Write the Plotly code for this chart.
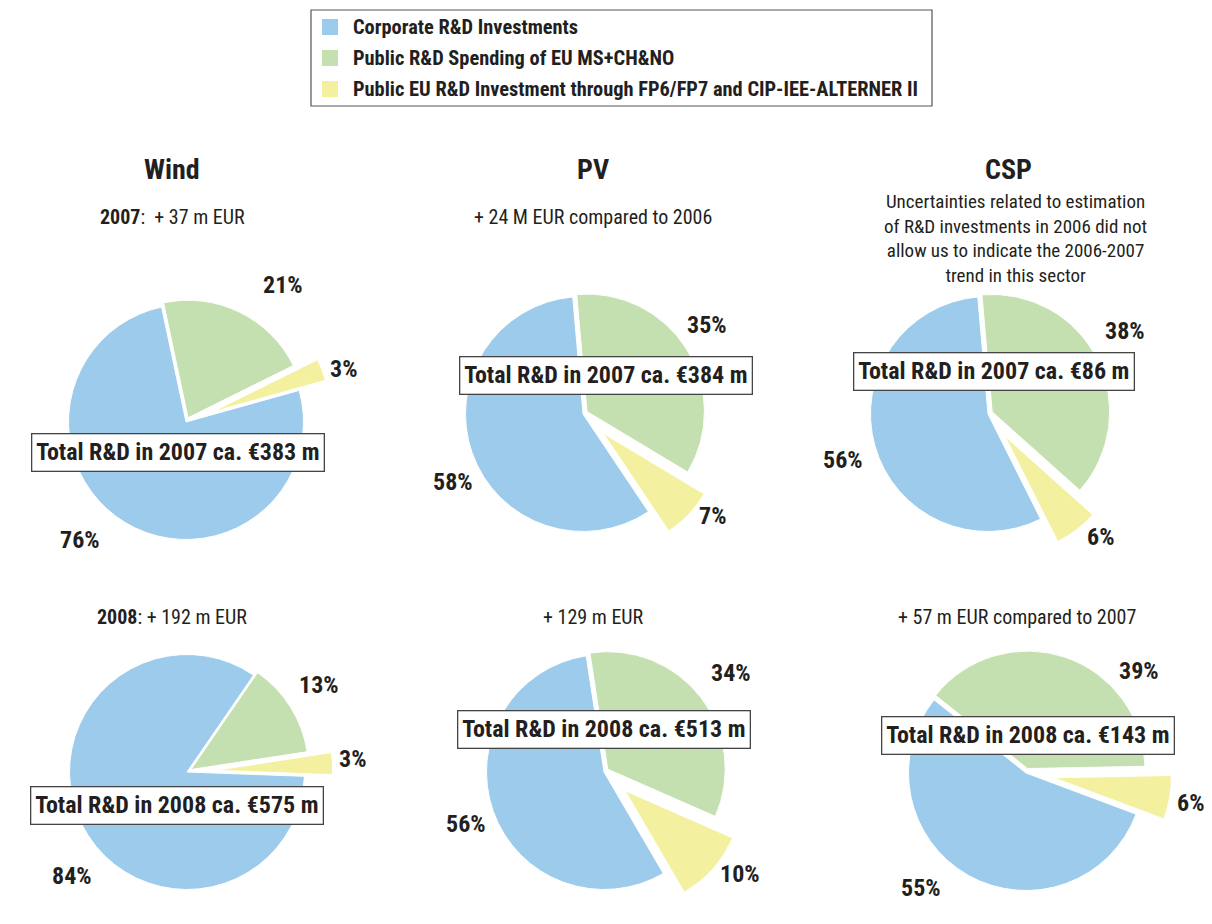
import plotly.graph_objects as go

# ---------------- data ----------------
categories = [
    "Corporate R&D Investments",
    "Public R&D Spending of EU MS+CH&NO",
    "Public EU R&D Investment through FP6/FP7 and CIP-IEE-ALTERNER II",
]
sectors = ["Wind", "PV", "CSP"]
years = ["2007", "2008"]

wind_2007 = [76, 21, 3]
pv_2007 = [58, 35, 7]
csp_2007 = [56, 38, 6]
wind_2008 = [84, 13, 3]
pv_2008 = [56, 34, 10]
csp_2008 = [55, 39, 6]

totals_2007 = [383, 384, 86]
totals_2008 = [575, 513, 143]

notes_2007 = [
    "<b>2007</b>:  + 37 m EUR",
    "+ 24 M EUR compared to 2006",
    "Uncertainties related to estimation<br>of R&D investments in 2006 did not<br>"
    "allow us to indicate the 2006-2007<br>trend in this sector",
]
notes_2008 = [
    "<b>2008</b>: + 192 m EUR",
    "+ 129 m EUR",
    "+ 57 m EUR compared to 2007",
]

# ---------------- style / layout ----------------
W, H = 1212, 924
FONT = "Liberation Sans Narrow, Roboto Condensed, DejaVu Sans Condensed, Roboto, Arial, sans-serif"
INK = "#231F20"
colors = ["#9DCBEC", "#C4E0B1", "#F3F1A0"]
pulls = [0, 0.04, 0.24]
R = 117.5

pies = [
    (wind_2007, (186, 422), -12.0),
    (pv_2007, (583, 414), -5.0),
    (csp_2007, (988, 414), -5.0),
    (wind_2008, (187, 772), 34.5),
    (pv_2008, (604, 772), -8.7),
    (csp_2008, (1026, 773), -51.5),
]
label_xy = [
    [(80, 540), (283, 285), (343, 369)],
    [(453, 482), (707, 325), (712, 516)],
    [(843, 460), (1125, 331), (1100, 537)],
    [(72, 876), (319, 685), (352, 759)],
    [(466, 824), (731, 673), (740, 874)],
    [(921, 888), (1139, 671), (1190, 803)],
]
total_xy = [(178, 452), (606, 375), (994, 371), (177, 805), (604, 729), (1028, 735)]
title_xy = [(172, 170), (593, 170), (1008, 170)]
note07_xy = [(172, 217), (593, 217), (1015, 239)]
note08_xy = [(172, 617), (593, 617), (1017, 617)]


def px(x):
    return x / W


def py(y):
    return 1 - y / H


def note(x, y, text, size, **kw):
    d = dict(x=px(x), y=py(y), xref="paper", yref="paper", showarrow=False,
             xanchor="center", yanchor="middle", text=text,
             font=dict(family=FONT, size=size, color=INK))
    d.update(kw)
    return d


fig = go.Figure()
annotations = []
shapes = []

for i, (vals, (cx, cy), green_start) in enumerate(pies):
    h = R * (1 + max(pulls))
    rotation = green_start + 3.6 * (vals[1] + vals[2])
    fig.add_trace(go.Pie(
        labels=categories,
        values=vals,
        sort=False,
        direction="clockwise",
        rotation=rotation,
        pull=pulls,
        marker=dict(colors=colors, line=dict(color="white", width=1)),
        textinfo="none",
        hoverinfo="label+percent",
        showlegend=False,
        domain=dict(x=[px(cx - h), px(cx + h)], y=[py(cy + h), py(cy - h)]),
    ))
    for j, v in enumerate(vals):
        lx, ly = label_xy[i][j]
        annotations.append(note(lx, ly, f"<b>{v}%</b>", 24))
    year = years[i // 3]
    total = (totals_2007 if i < 3 else totals_2008)[i % 3]
    tx, ty = total_xy[i]
    annotations.append(note(tx, ty, f"<b>Total R&D in {year} ca. €{total} m</b>", 24,
                            bgcolor="white", bordercolor="#444", borderwidth=1.3, borderpad=4))

for k, s in enumerate(sectors):
    annotations.append(note(*title_xy[k], f"<b>{s}</b>", 28))
    multi = "<br>" in notes_2007[k]
    annotations.append(note(*note07_xy[k], notes_2007[k], 19 if multi else 20, align="center"))
    annotations.append(note(*note08_xy[k], notes_2008[k], 20))

# legend box
shapes.append(dict(type="rect", xref="paper", yref="paper",
                   x0=px(311), x1=px(932), y0=py(106), y1=py(10),
                   line=dict(color="#555", width=1.2), fillcolor="white", layer="below"))
for j, cat in enumerate(categories):
    yc = 27 + 31 * j
    shapes.append(dict(type="rect", xref="paper", yref="paper",
                       x0=px(322), x1=px(338), y0=py(yc + 8), y1=py(yc - 8),
                       line=dict(width=0), fillcolor=colors[j]))
    annotations.append(note(351, yc, f"<b>{cat}</b>", 20.4, xanchor="left"))

fig.update_layout(
    width=W, height=H,
    margin=dict(l=0, r=0, t=0, b=0),
    paper_bgcolor="white", plot_bgcolor="white",
    annotations=annotations, shapes=shapes,
    showlegend=False,
)

fig.write_html("out.html", post_script="document.body.style.margin='0';",
               config={"displayModeBar": False})
